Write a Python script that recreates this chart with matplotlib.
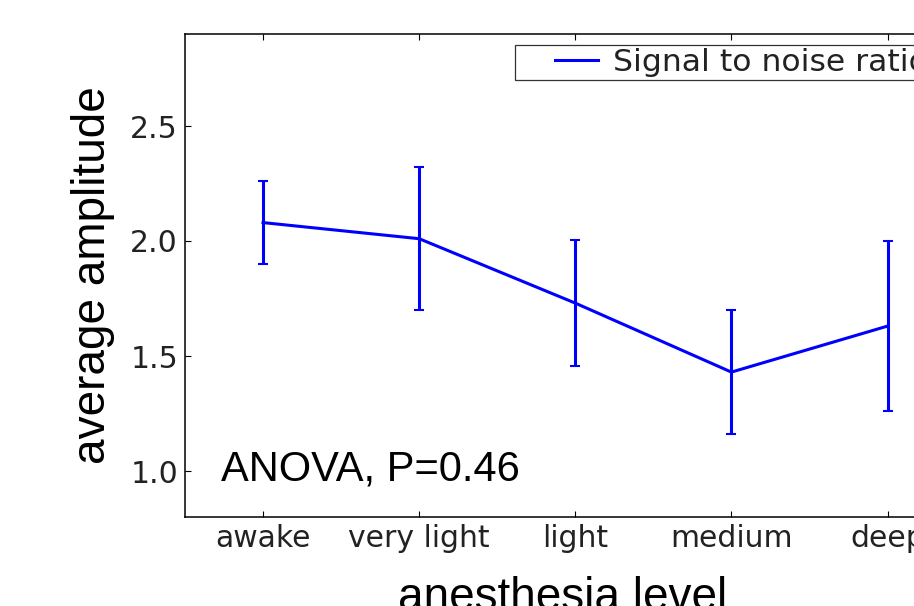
import numpy as np
import matplotlib
matplotlib.use("Agg")
import matplotlib.pyplot as plt
from matplotlib.legend_handler import HandlerLine2D

levels = ["awake", "very light", "light", "medium", "deep"]
amplitude = [2.08, 2.01, 1.73, 1.43, 1.63]
amplitude_err = [0.18, 0.31, 0.275, 0.27, 0.37]
yticks = [1.0, 1.5, 2.0, 2.5]

W, H = 914, 606
fig = plt.figure(figsize=(W / 100, H / 100), dpi=100)
# axes run past the right edge of the figure
left, right, top, bottom = 185, 940.6, 34, 517
ax = fig.add_axes([left / W, 1 - bottom / H, (right - left) / W, (bottom - top) / H])

x = np.arange(len(levels))
eb = ax.errorbar(x, amplitude, yerr=amplitude_err, color="#0000ff", lw=2.2,
                 elinewidth=2.2, capsize=3.6, capthick=1.5)

ax.set_xlim(-0.5, 4.34)
ax.set_ylim(0.8, 2.9)
ax.set_xticks(x)
ax.set_xticklabels(levels)
ax.set_yticks(yticks)
ax.tick_params(direction="in", top=True, right=True, length=4.5, width=0.8,
               labelsize=21.5, labelcolor="#222222")
ax.tick_params(axis="x", pad=5)
ax.tick_params(axis="y", pad=5)
for s in ax.spines.values():
    s.set_linewidth(1.1)
    s.set_color("black")

ax.set_ylabel("average amplitude", family="Liberation Sans", fontsize=33)
ax.yaxis.set_label_coords((115 - left) / (right - left), 0.5)
ax.set_xlabel("anesthesia level", family="Liberation Sans", fontsize=33)
ax.xaxis.set_label_coords(0.5, (bottom - 576) / (bottom - top))

ax.text((221 - left) / (right - left), (bottom - 481) / (bottom - top),
        "ANOVA, P=0.46", family="Liberation Sans", fontsize=30,
        transform=ax.transAxes, va="baseline")

line = eb.lines[0]
leg = ax.legend([line], ["Signal to noise ratio"], loc="upper left",
                bbox_to_anchor=(515 / W, 1 - 44.7 / H), bbox_transform=fig.transFigure,
                borderaxespad=0, borderpad=0.1, handlelength=3.71,
                handletextpad=-0.69, fontsize=22.6, fancybox=False,
                handler_map={line: HandlerLine2D(marker_pad=1.17, numpoints=2)})
leg.get_frame().set_edgecolor("black")
leg.get_frame().set_linewidth(0.9)
for t in leg.get_texts():
    t.set_color("#222222")

plt.savefig("out.png", dpi=100)
